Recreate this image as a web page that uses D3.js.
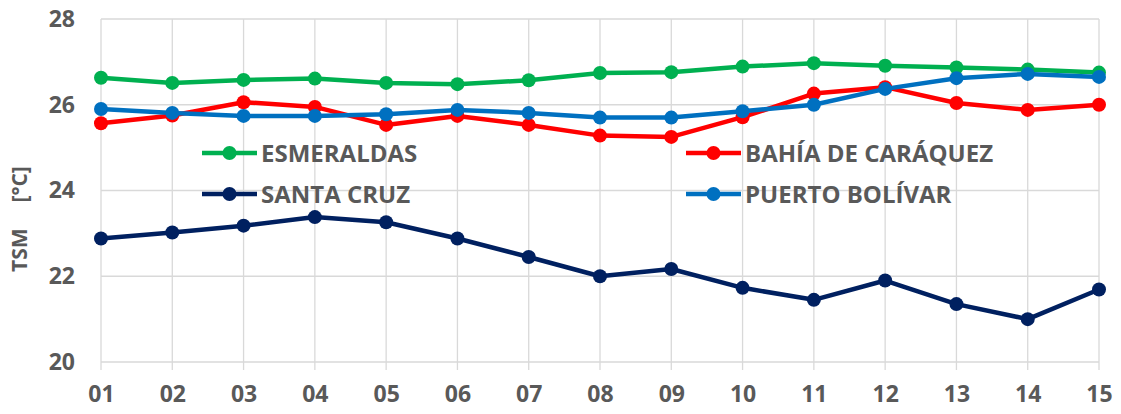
<!DOCTYPE html>
<html>
<head>
<meta charset="utf-8">
<script src="https://cdn.jsdelivr.net/npm/d3@7"></script>
<style>
  html, body { margin: 0; padding: 0; background: #fff; }
  svg { display: block; }
</style>
</head>
<body>
<div id="chart"></div>
<script>
const WIDTH = 1121;
const HEIGHT = 414;
const FONT = "'Open Sans', 'DejaVu Sans', sans-serif";
const TEXT_GREY = "#595959";

const days = ["01", "02", "03", "04", "05", "06", "07", "08", "09", "10", "11", "12", "13", "14", "15"];
const yTicks = [20, 22, 24, 26, 28];

const esmeraldas = [26.63, 26.51, 26.58, 26.61, 26.51, 26.48, 26.57, 26.74, 26.76, 26.89, 26.97, 26.91, 26.87, 26.82, 26.75];
const bahia = [25.57, 25.75, 26.06, 25.95, 25.53, 25.74, 25.53, 25.28, 25.25, 25.71, 26.26, 26.41, 26.04, 25.88, 26.00];
const santaCruz = [22.88, 23.02, 23.18, 23.38, 23.26, 22.88, 22.45, 22.00, 22.17, 21.73, 21.45, 21.90, 21.35, 21.00, 21.69];
const puertoBolivar = [25.90, 25.81, 25.74, 25.74, 25.78, 25.88, 25.81, 25.70, 25.70, 25.85, 26.00, 26.37, 26.62, 26.72, 26.65];

const series = [
  { name: "ESMERALDAS", values: esmeraldas, color: "#00b050" },
  { name: "BAHÍA DE CARÁQUEZ", values: bahia, color: "#ff0000" },
  { name: "SANTA CRUZ", values: santaCruz, color: "#002060" },
  { name: "PUERTO BOLÍVAR", values: puertoBolivar, color: "#0070c0" },
];

const margin = { top: 19, right: 22, bottom: 52, left: 101 };

const svg = d3.select("#chart").append("svg")
  .attr("width", WIDTH)
  .attr("height", HEIGHT);

const x = d3.scalePoint()
  .domain(days)
  .range([margin.left, WIDTH - margin.right]);

const y = d3.scaleLinear()
  .domain([20, 28])
  .range([HEIGHT - margin.bottom, margin.top]);

// gridlines
const grid = svg.append("g").attr("stroke", "#d9d9d9").attr("stroke-width", 1.3);
grid.selectAll("line.h").data(yTicks).join("line")
  .attr("x1", x.range()[0]).attr("x2", x.range()[1])
  .attr("y1", d => y(d)).attr("y2", d => y(d));
grid.selectAll("line.v").data(days).join("line")
  .attr("x1", d => x(d)).attr("x2", d => x(d))
  .attr("y1", y(28)).attr("y2", y(20) + 8);

// axes
const yAxis = svg.append("g")
  .attr("transform", `translate(${margin.left},0)`)
  .call(d3.axisLeft(y).tickValues(yTicks).tickSize(0).tickPadding(26));
yAxis.select(".domain").remove();
yAxis.selectAll("text")
  .attr("font-family", FONT).attr("font-weight", "bold")
  .attr("font-size", 23).attr("fill", TEXT_GREY);

const xAxis = svg.append("g")
  .attr("transform", `translate(0,${y(20)})`)
  .call(d3.axisBottom(x).tickSize(0).tickPadding(24));
xAxis.select(".domain").remove();
xAxis.selectAll("text")
  .attr("font-family", FONT).attr("font-weight", "bold")
  .attr("font-size", 23).attr("fill", TEXT_GREY);

const title = svg.append("text")
  .attr("transform", "translate(27,272) rotate(-90)")
  .attr("font-family", FONT).attr("font-weight", "bold")
  .attr("font-size", 21).attr("fill", TEXT_GREY);
title.append("tspan").text("TSM");
title.append("tspan").attr("dx", 26).text("[°C]");

// lines
const line = d3.line()
  .x((d, i) => x(days[i]))
  .y(d => y(d));

series.forEach(s => {
  const g = svg.append("g");
  g.append("path")
    .datum(s.values)
    .attr("d", line)
    .attr("fill", "none")
    .attr("stroke", s.color)
    .attr("stroke-width", 4.5)
    .attr("stroke-linejoin", "round");
  g.selectAll("circle").data(s.values).join("circle")
    .attr("cx", (d, i) => x(days[i]))
    .attr("cy", d => y(d))
    .attr("r", 7)
    .attr("fill", s.color);
});

// legend
const legendPos = [
  { x: 202, y: 153 },
  { x: 686, y: 153 },
  { x: 202, y: 194 },
  { x: 686, y: 194 },
];
series.forEach((s, i) => {
  const p = legendPos[i];
  const g = svg.append("g").attr("transform", `translate(${p.x},${p.y})`);
  g.append("line")
    .attr("x1", 0).attr("x2", 55)
    .attr("stroke", s.color).attr("stroke-width", 4.5);
  g.append("circle").attr("cx", 27.5).attr("r", 7).attr("fill", s.color);
  g.append("text")
    .attr("x", 59).attr("dy", "0.36em")
    .attr("font-family", FONT).attr("font-weight", "bold")
    .attr("font-size", 24).attr("fill", TEXT_GREY)
    .text(s.name);
});
</script>
</body>
</html>
